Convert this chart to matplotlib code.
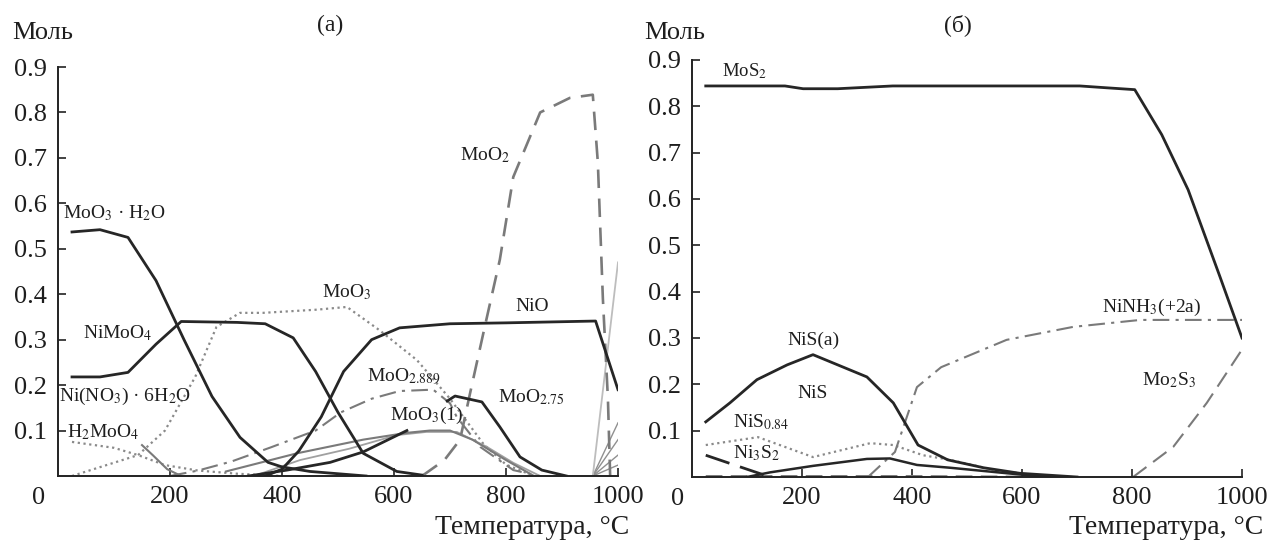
import matplotlib
matplotlib.use('Agg')
import matplotlib.pyplot as plt

plt.rcParams['font.family'] = ['Liberation Serif', 'DejaVu Serif']
plt.rcParams['mathtext.fontset'] = 'stix'
plt.rcParams['text.color'] = '#1e1e1e'

# ---- panel (a) data: temperature (C), amount (mol) ----
moo3_h2o_t = [25, 75, 125, 175, 225, 275, 325, 375, 400, 450, 500, 550]
moo3_h2o_y = [0.537, 0.542, 0.525, 0.43, 0.30, 0.175, 0.085, 0.03, 0.02, 0.01, 0.005, 0.0]

nimoo4_t = [25, 75, 125, 175, 220, 320, 370, 420, 460, 500, 545, 605, 650]
nimoo4_y = [0.218, 0.218, 0.228, 0.29, 0.34, 0.338, 0.335, 0.304, 0.23, 0.14, 0.05, 0.01, 0.002]

nio_t = [370, 400, 430, 470, 510, 560, 610, 700, 800, 960, 1000]
nio_y = [0.0, 0.015, 0.055, 0.13, 0.23, 0.30, 0.326, 0.335, 0.337, 0.341, 0.19]

moo275_t = [695, 709, 757, 789, 825, 864, 908]
moo275_y = [0.165, 0.176, 0.163, 0.108, 0.042, 0.013, 0.0]

black2_t = [340, 409, 486, 545, 623]
black2_y = [0.0, 0.013, 0.03, 0.053, 0.10]

moo2_t = [650, 690, 718, 736, 762, 789, 813, 861, 914, 955, 964, 973, 982, 986]
moo2_y = [0.0, 0.035, 0.08, 0.183, 0.328, 0.476, 0.658, 0.80, 0.832, 0.839, 0.69, 0.39, 0.17, 0.0]

moo3_t = [25, 143, 191, 245, 283, 325, 366, 462, 516, 575, 641, 700, 730, 760, 800, 850]
moo3_y = [0.0, 0.046, 0.10, 0.218, 0.328, 0.359, 0.359, 0.366, 0.372, 0.32, 0.255, 0.17, 0.12, 0.07, 0.025, 0.0]

h2moo4_t = [25, 100, 143, 191, 250, 320, 400]
h2moo4_y = [0.075, 0.062, 0.046, 0.024, 0.012, 0.005, 0.0]

nino3_t = [150, 170, 195, 215]
nino3_y = [0.068, 0.045, 0.015, 0.003]

moo2889_t = [200, 250, 310, 380, 460, 505, 560, 610, 670, 700, 712, 754, 813, 860]
moo2889_y = [0.0, 0.012, 0.032, 0.063, 0.1, 0.14, 0.17, 0.187, 0.19, 0.16, 0.13, 0.064, 0.013, 0.0]

moo3l_t = [300, 427, 545, 623, 664, 700, 740, 800, 850]
moo3l_y = [0.01, 0.05, 0.08, 0.095, 0.1, 0.1, 0.08, 0.035, 0.0]

grey2_t = [350, 432, 520, 605, 658, 712, 766, 813, 861]
grey2_y = [0.0, 0.035, 0.06, 0.09, 0.097, 0.097, 0.064, 0.029, 0.0]

fan_t = [955, 1000]
fan_ends = [0.117, 0.08, 0.046, 0.024]
light_t = [955, 1000]
light_y = [0.0, 0.47]

# ---- panel (б) data ----
mos2_t = [25, 169, 202, 265, 365, 705, 754, 805, 854, 902, 960, 1000]
mos2_y = [0.844, 0.844, 0.838, 0.838, 0.844, 0.844, 0.840, 0.836, 0.739, 0.62, 0.432, 0.30]

nis_t = [25, 69, 118, 173, 220, 318, 366, 411, 465, 530, 596, 700]
nis_y = [0.119, 0.16, 0.21, 0.242, 0.264, 0.216, 0.16, 0.069, 0.037, 0.02, 0.008, 0.0]

nis084_t = [25, 120, 220, 324, 366, 420, 469, 550, 650]
nis084_y = [0.069, 0.086, 0.043, 0.073, 0.069, 0.047, 0.037, 0.015, 0.0]

ni3s2_t = [25, 87, 142]
ni3s2_y = [0.047, 0.022, 0.0]

nis_low_t = [100, 142, 220, 318, 360, 409, 469, 600, 650]
nis_low_y = [0.0, 0.01, 0.024, 0.039, 0.04, 0.026, 0.02, 0.005, 0.0]

ninh3_t = [320, 369, 409, 453, 572, 693, 815, 1000]
ninh3_y = [0.0, 0.054, 0.194, 0.237, 0.296, 0.324, 0.339, 0.339]

mo2s3_t = [802, 875, 936, 1000]
mo2s3_y = [0.0, 0.065, 0.16, 0.275]

base_t = [25, 400, 700]
base_y = [0.002, 0.002, 0.0]

BLACK = '#262626'
GREY = '#7a7a7a'
LGREY = '#bdbdbd'

fig = plt.figure(figsize=(12.68, 5.43), dpi=100)
ax1 = fig.add_axes([58 / 1268, 1 - 476 / 543, 560 / 1268, 409 / 543])
ax2 = fig.add_axes([692 / 1268, 1 - 477 / 543, 550 / 1268, 417 / 543])

for ax in (ax1, ax2):
    ax.set_xlim(0, 1000)
    ax.set_ylim(0, 0.9)
    for s in ('top', 'right'):
        ax.spines[s].set_visible(False)
    for s in ('left', 'bottom'):
        ax.spines[s].set_linewidth(1.4)
        ax.spines[s].set_color('#222222')
    ax.set_xticks([200, 400, 600, 800, 1000])
    ax.set_xticklabels(['200', '400', '600', '800', '1000'])
    ax.set_yticks([0.1, 0.2, 0.3, 0.4, 0.5, 0.6, 0.7, 0.8, 0.9])
    ax.set_yticklabels(['0.1', '0.2', '0.3', '0.4', '0.5', '0.6', '0.7', '0.8', '0.9'])
    ax.tick_params(direction='in', length=6, width=1.2, labelsize=19,
                   color='#222222', labelcolor='#1e1e1e')
    ax.tick_params(axis='x', pad=7)
    ax.tick_params(axis='y', pad=8)

# panel (a)
ax1.plot(moo3_t, moo3_y, color='#8a8a8a', lw=1.6, dashes=(1, 1.6))
ax1.plot(h2moo4_t, h2moo4_y, color='#8a8a8a', lw=1.6, dashes=(1, 1.6))
ax1.plot(nino3_t, nino3_y, color=GREY, lw=1.5)
ax1.plot(moo2889_t, moo2889_y, color=GREY, lw=1.5, dashes=(8, 3, 1.5, 3))
ax1.plot(grey2_t, grey2_y, color='#a0a0a0', lw=1.3)
ax1.plot(moo3l_t, moo3l_y, color=GREY, lw=1.5)
for e in fan_ends:
    ax1.plot(fan_t, [0.0, e], color='#909090', lw=1.0)
ax1.plot(light_t, light_y, color=LGREY, lw=1.3)
ax1.plot(moo2_t, moo2_y, color=GREY, lw=1.9, dashes=(7, 4))
ax1.plot(moo3_h2o_t, moo3_h2o_y, color=BLACK, lw=2.0)
ax1.plot(nimoo4_t, nimoo4_y, color=BLACK, lw=2.0)
ax1.plot(nio_t, nio_y, color=BLACK, lw=2.0)
ax1.plot(moo275_t, moo275_y, color=BLACK, lw=2.0)
ax1.plot(black2_t, black2_y, color=BLACK, lw=2.0)

fs = 14
ax1.text(9, 0.579, 'MoO$_3$ · H$_2$O', fontsize=fs, va='center')
ax1.text(45, 0.315, 'NiMoO$_4$', fontsize=fs, va='center')
ax1.text(2, 0.174, 'Ni(NO$_3$) · 6H$_2$O', fontsize=fs, va='center')
ax1.text(16, 0.097, 'H$_2$MoO$_4$', fontsize=fs, va='center')
ax1.text(516, 0.405, 'MoO$_3$', fontsize=fs, va='center', ha='center')
ax1.text(847, 0.372, 'NiO', fontsize=fs, va='center', ha='center')
ax1.text(552, 0.218, 'MoO$_{2.889}$', fontsize=fs, va='center')
ax1.text(593, 0.134, 'MoO$_3$(1)', fontsize=fs, va='center')
ax1.text(786, 0.174, 'MoO$_{2.75}$', fontsize=fs, va='center')
ax1.text(718, 0.707, 'MoO$_2$', fontsize=fs, va='center')
ax1.text(-0.034, -0.054, '0', transform=ax1.transAxes, fontsize=19, ha='center', va='center')

# panel (б)
ax2.plot(base_t, base_y, color=GREY, lw=1.5, dashes=(8, 4))
ax2.plot(nis084_t, nis084_y, color='#8a8a8a', lw=1.6, dashes=(1, 1.6))
ax2.plot(ninh3_t, ninh3_y, color=GREY, lw=1.5, dashes=(8, 3, 1.5, 3))
ax2.plot(mo2s3_t, mo2s3_y, color=GREY, lw=1.5, dashes=(8, 4))
ax2.plot(ni3s2_t, ni3s2_y, color=BLACK, lw=2.0, dashes=(9, 4))
ax2.plot(nis_low_t, nis_low_y, color=BLACK, lw=1.8)
ax2.plot(nis_t, nis_y, color=BLACK, lw=2.0)
ax2.plot(mos2_t, mos2_y, color=BLACK, lw=2.0)

ax2.text(55, 0.875, 'MoS$_2$', fontsize=13.5, va='center')
ax2.text(173, 0.296, 'NiS(a)', fontsize=fs, va='center')
ax2.text(191, 0.18, 'NiS', fontsize=fs, va='center')
ax2.text(75, 0.119, 'NiS$_{0.84}$', fontsize=fs, va='center')
ax2.text(75, 0.052, 'Ni$_3$S$_2$', fontsize=fs, va='center')
ax2.text(745, 0.367, 'NiNH$_3$(+2a)', fontsize=fs, va='center')
ax2.text(818, 0.21, 'Mo$_2$S$_3$', fontsize=fs, va='center')
ax2.text(-0.027, -0.052, '0', transform=ax2.transAxes, fontsize=19, ha='center', va='center')

# figure-level texts
fig.text(12 / 1268, 1 - 33 / 543, 'Моль', fontsize=19, va='center', ha='left')
fig.text(644 / 1268, 1 - 33 / 543, 'Моль', fontsize=19, va='center', ha='left')
fig.text(330 / 1268, 1 - 25 / 543, '(a)', fontsize=17, va='center', ha='center')
fig.text(958 / 1268, 1 - 25 / 543, '(б)', fontsize=17, va='center', ha='center')
fig.text(629 / 1268, 1 - 527 / 543, 'Температура, °C', fontsize=20, va='center', ha='right')
fig.text(1263 / 1268, 1 - 527 / 543, 'Температура, °C', fontsize=20, va='center', ha='right')

fig.savefig('out.png', dpi=100)
